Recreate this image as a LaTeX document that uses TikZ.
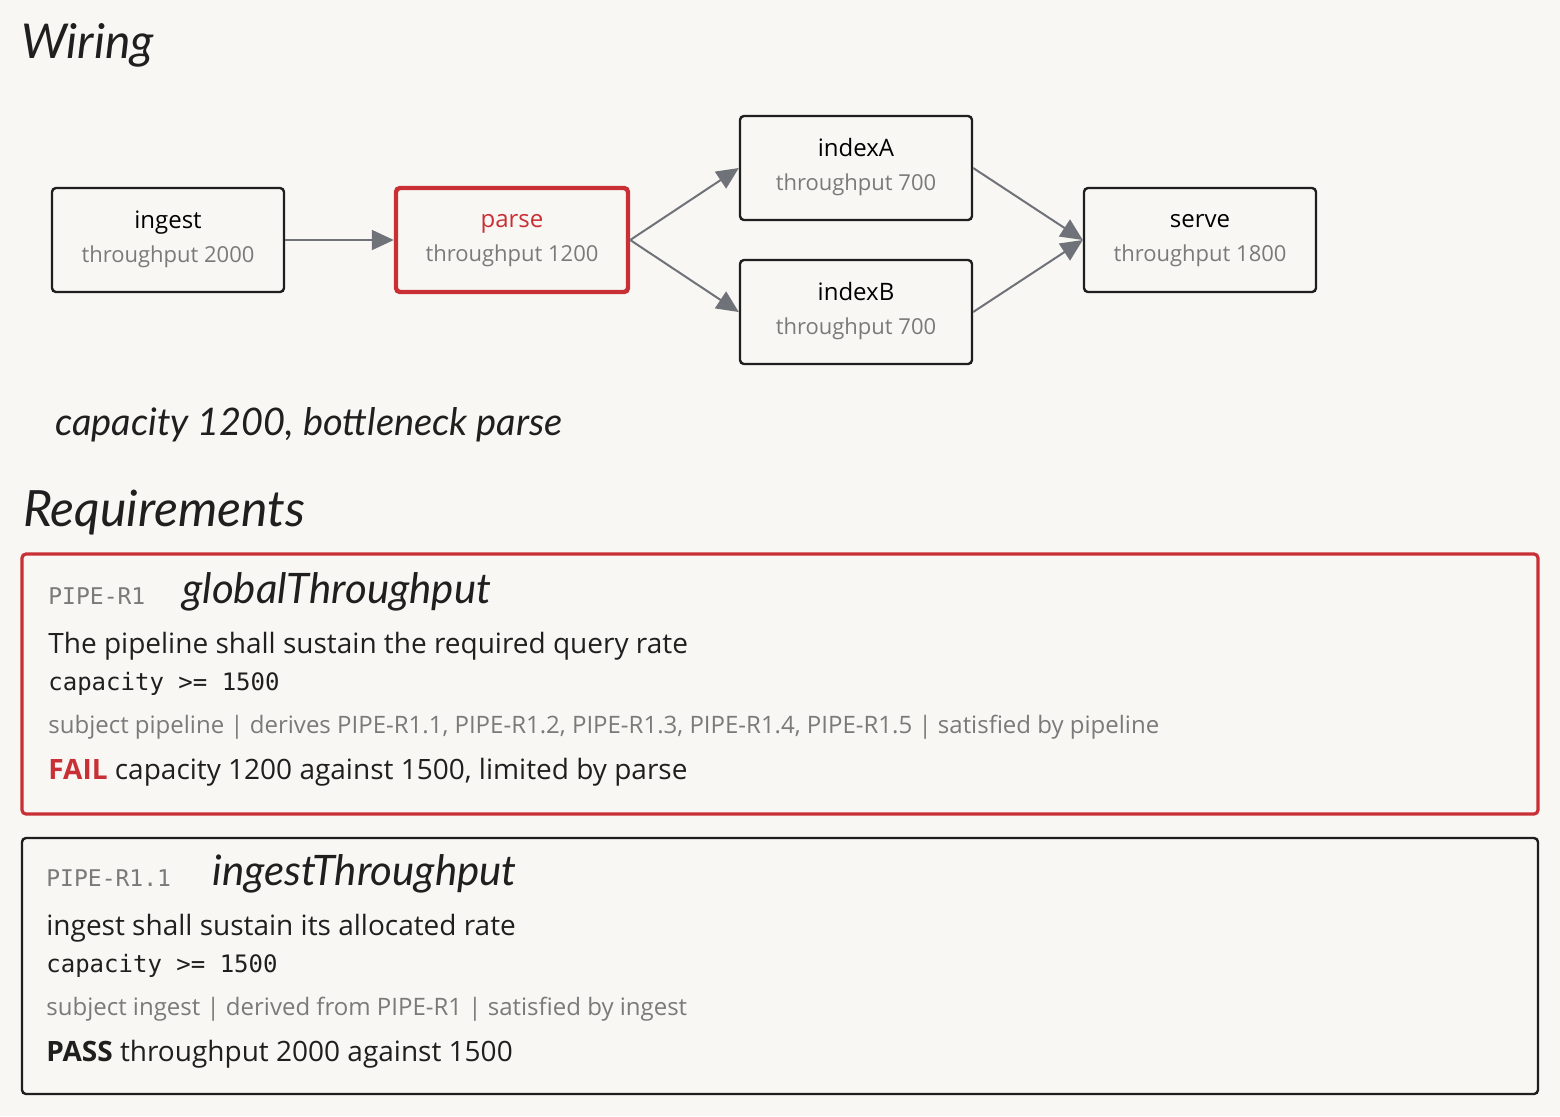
\documentclass[tikz,border=0pt]{standalone}
\usepackage{fontspec}
\setmainfont{Open Sans}
\newfontfamily\hand{Lato Italic}
\setmonofont{DejaVu Sans Mono}
\usetikzlibrary{arrows.meta}
\definecolor{bg}{HTML}{F8F7F3}
\definecolor{red}{HTML}{C93035}
\definecolor{dark}{HTML}{1F1F1F}
\definecolor{gr}{HTML}{7A7A7A}
\definecolor{ar}{HTML}{707279}
\begin{document}
\begin{tikzpicture}[x=0.5pt,y=-0.5pt,
 box/.style={draw=dark,line width=1.2pt,rounded corners=2pt,minimum width=116pt,minimum height=52pt,fill=bg,align=center,inner sep=0pt},
 conn/.style={draw=ar,line width=1pt,-{Triangle[length=11pt,width=10pt]}},
 hd/.style={anchor=west,font=\hand\fontsize{24}{28}\selectfont,text=dark},
 lt/.style={anchor=west,inner sep=0pt,text=dark},
]
\fill[bg] (0,0) rectangle (1560,1116);
\useasboundingbox (0,0) rectangle (1560,1116);
\node[hd] (wt) at (14,45) {Wiring};
\node[box] (ingest) at (168,240) {\begin{tabular}{c}\fontsize{12}{14}\selectfont ingest\\[5pt]\color{gr}\fontsize{11}{13}\selectfont throughput 2000\end{tabular}};
\node[box,draw=red,line width=2.2pt] (parse) at (512,240) {\begin{tabular}{c}\color{red}\fontsize{12}{14}\selectfont parse\\[5pt]\color{gr}\fontsize{11}{13}\selectfont throughput 1200\end{tabular}};
\node[box] (indexA) at (856,168) {\begin{tabular}{c}\fontsize{12}{14}\selectfont indexA\\[5pt]\color{gr}\fontsize{11}{13}\selectfont throughput 700\end{tabular}};
\node[box] (indexB) at (856,312) {\begin{tabular}{c}\fontsize{12}{14}\selectfont indexB\\[5pt]\color{gr}\fontsize{11}{13}\selectfont throughput 700\end{tabular}};
\node[box] (serve) at (1200,240) {\begin{tabular}{c}\fontsize{12}{14}\selectfont serve\\[5pt]\color{gr}\fontsize{11}{13}\selectfont throughput 1800\end{tabular}};
\draw[conn] (ingest.east) -- (parse.west);
\draw[conn] (parse.east) -- (indexA.west);
\draw[conn] (parse.east) -- (indexB.west);
\draw[conn] (indexA.east) -- (serve.west);
\draw[conn] (indexB.east) -- (serve.west);
\node[hd,font=\hand\fontsize{19}{22}\selectfont] (cap) at (48,425) {capacity 1200, bottleneck parse};
\node[hd,font=\hand\fontsize{25}{28}\selectfont] (rq) at (16,513) {Requirements};
% box 1
\draw[red,line width=1.6pt,rounded corners=2pt] (22,554) rectangle (1538,814);
\node[lt,font=\ttfamily\fontsize{11.5}{13}\selectfont,text=gr] (r1id) at (48,596) {PIPE-R1};
\node[lt,font=\hand\fontsize{21}{24}\selectfont] (r1t) at (182,592) {globalThroughput};
\node[lt,font=\fontsize{14}{18}\selectfont] (r1d) at (48,646) {The pipeline shall sustain the required query rate};
\node[lt,font=\ttfamily\fontsize{12}{14}\selectfont] (r1c) at (48,684) {capacity >= 1500};
\node[lt,font=\fontsize{12}{15}\selectfont,text=gr] (r1s) at (48,727) {subject pipeline | derives PIPE-R1.1, PIPE-R1.2, PIPE-R1.3, PIPE-R1.4, PIPE-R1.5 | satisfied by pipeline};
\node[lt,font=\fontsize{14}{18}\selectfont] (r1r) at (48,772) {\textbf{\color{red}FAIL} capacity 1200 against 1500, limited by parse};
% box 2
\draw[dark,line width=1.2pt,rounded corners=2pt] (22,838) rectangle (1538,1094);
\node[lt,font=\ttfamily\fontsize{11.5}{13}\selectfont,text=gr] (r2id) at (46,878) {PIPE-R1.1};
\node[lt,font=\hand\fontsize{21}{24}\selectfont] (r2t) at (212,874) {ingestThroughput};
\node[lt,font=\fontsize{14}{18}\selectfont] (r2d) at (46,928) {ingest shall sustain its allocated rate};
\node[lt,font=\ttfamily\fontsize{12}{14}\selectfont] (r2c) at (46,966) {capacity >= 1500};
\node[lt,font=\fontsize{12}{15}\selectfont,text=gr] (r2s) at (46,1009) {subject ingest | derived from PIPE-R1 | satisfied by ingest};
\node[lt,font=\fontsize{14}{18}\selectfont] (r2r) at (46,1054) {\textbf{PASS} throughput 2000 against 1500};
\end{tikzpicture}
\end{document}
